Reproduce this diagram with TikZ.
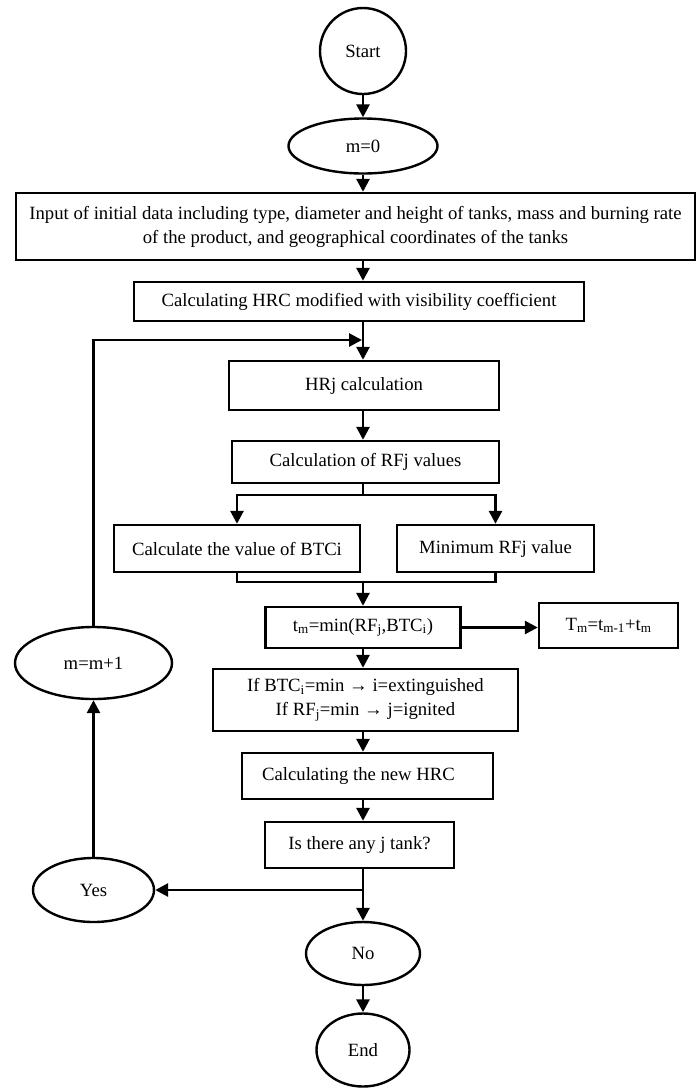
\documentclass[tikz,border=0pt]{standalone}
\usepackage{fontspec}
\setmainfont{Liberation Serif}
\usetikzlibrary{arrows.meta,positioning,shapes.geometric}
\tikzset{
  fcBox/.style={draw, line width=2.4pt, rectangle, align=center, inner sep=2pt},
  fcOval/.style={draw, line width=2.4pt, ellipse, inner sep=0pt},
  %% Flow arrows
  fcarr/.style={-{Triangle[length=13pt,width=13pt]}, line width=2.8pt},
  fcline/.style={line width=2.8pt},
}
\begin{document}
\begin{tikzpicture}[x=1pt, y=-1pt, font=\fontsize{18.7}{24}\selectfont]
\useasboundingbox (0,0) rectangle (696,1088);
%% Main column (x = 363)
\node[fcOval, minimum width=86, minimum height=86] (start) at (363,51) {Start};
\node[fcOval, minimum width=149, minimum height=55] (mZero) at (363,146) {m=0};
\node[fcBox, minimum width=679, minimum height=67] (input) at (355.5,226.5)
  {Input of initial data including type, diameter and height of tanks, mass and burning rate\\of the product, and geographical coordinates of the tanks};
\node[fcBox, minimum width=450, minimum height=39] (hrcVis) at (359,301.5) {Calculating HRC modified with visibility coefficient};
\node[fcBox, minimum width=270, minimum height=49] (hrj) at (364,385.5) {HRj calculation};
\node[fcBox, minimum width=267, minimum height=42] (rfj) at (365.5,462) {Calculation of RFj values};
\node[fcBox, minimum width=246, minimum height=47] (btc) at (237,548.5) {Calculate the value of BTCi};
\node[fcBox, minimum width=197, minimum height=47] (minRf) at (495.5,548.5) {Minimum RFj value};
\node[fcBox, minimum width=195, minimum height=41] (tMin) at (363,627.5)
  {t\textsubscript{m}=min(RF\textsubscript{j},BTC\textsubscript{i})};
\node[fcBox, minimum width=139, minimum height=45] (tSum) at (608.5,625.5)
  {T\textsubscript{m}=t\textsubscript{m-1}+t\textsubscript{m}};
\node[fcBox, minimum width=305, minimum height=62] (ifBox) at (365.5,700)
  {If BTC\textsubscript{i}=min → i=extinguished\\If RF\textsubscript{j}=min → j=ignited};
\node[fcBox, minimum width=251, minimum height=46] (newHrc) at (367.5,776) {Calculating the new HRC\hspace{18pt}};
\node[fcBox, minimum width=189, minimum height=46] (anyJ) at (359.5,845) {Is there any j tank?};
\node[fcOval, minimum width=121, minimum height=64] (yes) at (93.5,890) {Yes};
\node[fcOval, minimum width=114, minimum height=63] (no) at (363,953.5) {No};
\node[fcOval, minimum width=93, minimum height=73] (endN) at (363,1050) {End};
\node[fcOval, minimum width=157, minimum height=72] (mInc) at (93.5,663) {m=m+1};

%% Junction points
\coordinate (loopIn) at (363,340);
\coordinate (split) at (363,495);
\coordinate (merge) at (363,582);
\coordinate (fork) at (363,890);

%% Connectors
\draw[fcarr] (start) -- (mZero);
\draw[fcarr] (mZero.south) -- (mZero.south |- input.north);
\draw[fcarr] (mZero.south |- input.south) -- (mZero.south |- hrcVis.north);
\draw[fcarr] (mZero.south |- hrcVis.south) -- (mZero.south |- hrj.north);
\draw[fcarr] (mZero.south |- hrj.south) -- (mZero.south |- rfj.north);
\draw[fcline] (mZero.south |- rfj.south) -- (split);
\draw[fcarr] (split) -| (btc.north);
\draw[fcarr] (split) -| (minRf.north);
\draw[fcline] (btc.south) |- (merge) -| (minRf.south);
\draw[fcarr] (merge) -- (tMin.north);
\draw[fcarr] (tMin.east) -- (tMin.east -| tSum.west);
\draw[fcarr] (tMin.south) -- (tMin.south |- ifBox.north);
\draw[fcarr] (ifBox.south -| tMin) -- (newHrc.north -| tMin);
\draw[fcarr] (newHrc.south -| tMin) -- (anyJ.north -| tMin);
\draw[fcline] (anyJ.south -| tMin) -- (fork);
\draw[fcarr] (fork) -- (yes.east);
\draw[fcarr] (fork) -- (no.north);
\draw[fcarr] (no) -- (endN);
\draw[fcarr] (yes) -- (mInc);
\draw[fcarr] (mInc.north) |- ([xshift=-1pt]loopIn);

\end{tikzpicture}
\end{document}
